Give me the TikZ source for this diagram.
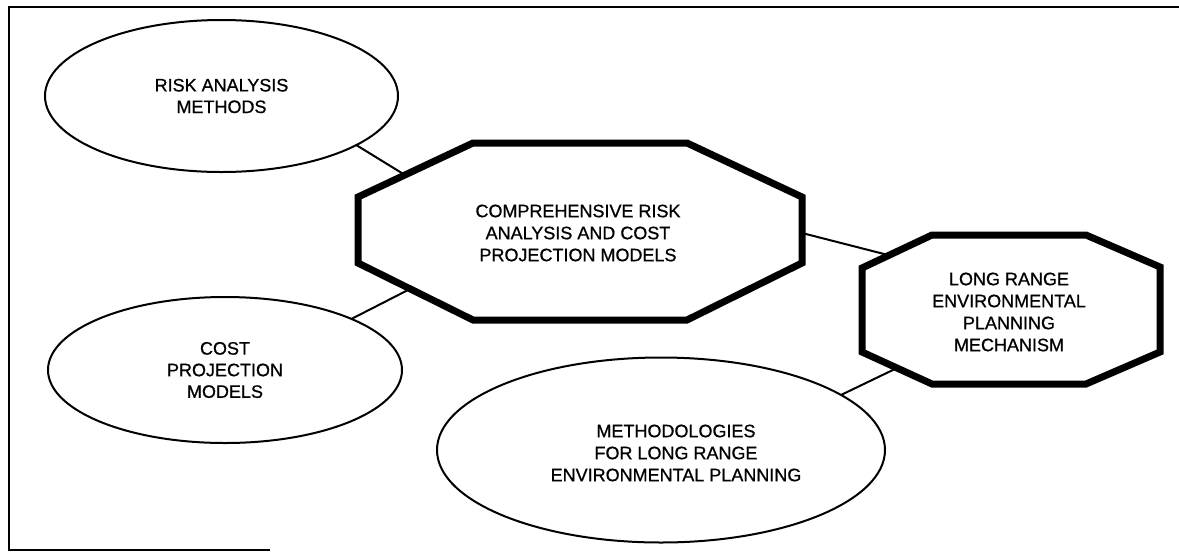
\documentclass[tikz,border=0pt]{standalone}
\usepackage{fontspec}
\setmainfont{Liberation Sans}
\newfontfamily\diagfont[FakeBold=0.8]{Liberation Sans}
\usetikzlibrary{shapes.geometric}
\begin{document}
\begin{tikzpicture}[x=0.5pt,y=-0.5pt,
  oval/.style={ellipse,draw,line width=1pt,inner sep=0pt,outer sep=0pt,align=center,font=\diagfont\fontsize{9}{10.8}\selectfont},
  octa/.style={draw,line width=3.5pt,line join=miter,fill=white},
  lbl/.style={align=center,font=\diagfont\fontsize{9}{11}\selectfont,inner sep=0pt},
  link/.style={line width=1pt},
  framing/.style={line width=1pt}]
\useasboundingbox (0,0) rectangle (1179,553);
% frame
\coordinate (fr1) at (1179,7);
\coordinate (fr2) at (9,7);
\coordinate (fr3) at (9,550);
\coordinate (fr4) at (270,550);
\draw[framing] (fr1) -- (fr2) -- (fr3) -- (fr4);
% ellipses
\node[oval,minimum width=176.5pt,minimum height=76pt] (e1) at (221.5,96) {RISK ANALYSIS\\METHODS};
\node[oval,minimum width=177pt,minimum height=73pt] (e2) at (225,370) {COST\\PROJECTION\\MODELS};
\node[oval,minimum width=224pt,minimum height=92.5pt] (e3) at (661,450) {};
\node[lbl] (t3) at (676,453) {METHODOLOGIES\\FOR LONG RANGE\\ENVIRONMENTAL PLANNING};
% connectors
\coordinate (h1) at (405,175);
\coordinate (h2) at (410,289);
\coordinate (h3) at (802,233);
\coordinate (m1) at (888,255);
\coordinate (m2) at (897,368);
\draw[link] (e1.-20) -- (h1);
\draw[link] (e2.22.6) -- (h2);
\draw[link] (h3) -- (m1);
\draw[link] (e3.17) -- (m2);
% octagons
\draw[octa] (358,197) -- (473,143) -- (687,143) -- (802,197) -- (802,263) -- (687,320) -- (473,320) -- (358,263) -- cycle;
\draw[octa] (862,268) -- (932,235) -- (1086,235) -- (1160,267) -- (1160,352) -- (1086,384) -- (932,384) -- (862,352) -- cycle;
\node[lbl] (hub) at (578,233) {COMPREHENSIVE RISK\\ANALYSIS AND COST\\PROJECTION MODELS};
\node[lbl] (mech) at (1009,312) {LONG RANGE\\ENVIRONMENTAL\\PLANNING\\MECHANISM};
\end{tikzpicture}
\end{document}
